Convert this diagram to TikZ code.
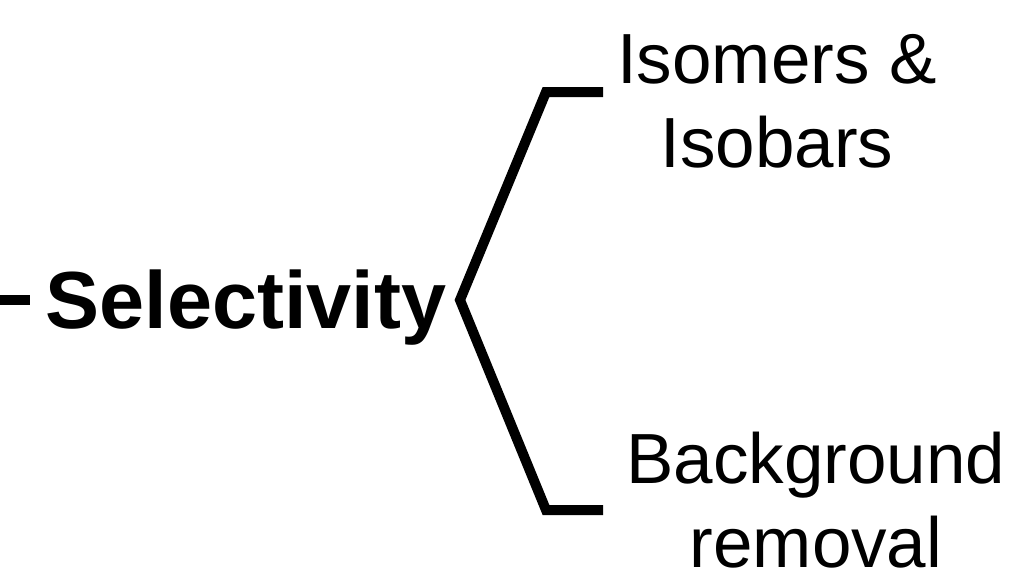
\documentclass[tikz,border=0pt]{standalone}
\usepackage{fontspec}
\setmainfont{Liberation Sans}
\begin{document}
\begin{tikzpicture}[x=1pt,y=-1pt,
  lbl/.style={inner sep=0pt, align=center, font=\fontsize{71}{84}\selectfont},
  head/.style={inner sep=0pt, font=\fontsize{81}{90}\selectfont\bfseries},
  brk/.style={line width=10pt, line join=miter}]
\useasboundingbox (0,0) rectangle (1024,576);
\node[head, anchor=base] (sel) at (246,328) {Selectivity};
\node[lbl, anchor=base] (iso) at (777,167) {Isomers \&\\Isobars};
\node[lbl, anchor=base] (bg) at (816,567) {Background\\removal};
\coordinate (d0) at (0,300);
\coordinate (d1) at (30,300);
\coordinate (apex) at (460,300);
\coordinate (tc) at (546,92);
\coordinate (te) at (603,92);
\coordinate (bc) at (546,510);
\coordinate (be) at (603,510);
\draw[brk] (d0) -- (d1);
\draw[brk] (te) -- (tc) -- (apex) -- (bc) -- (be);
\end{tikzpicture}
\end{document}
